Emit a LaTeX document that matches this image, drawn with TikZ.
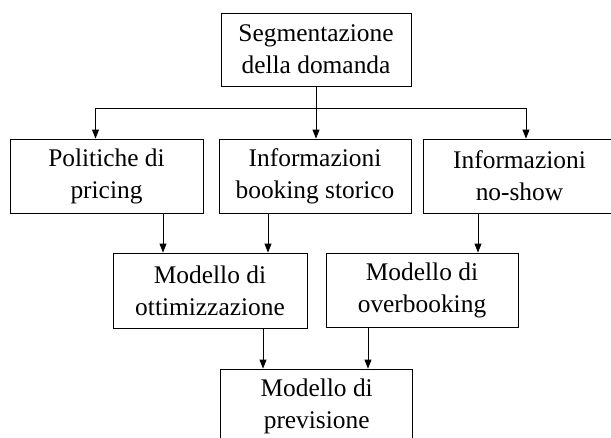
\documentclass[tikz,border=0pt]{standalone}
\usepackage{fontspec}
\setmainfont{Liberation Serif}
\usetikzlibrary{arrows.meta}
\begin{document}
\begin{tikzpicture}[
				x=1pt, y=-1pt,
				box/.style={draw=black, line width=0.9pt, minimum width=192pt, minimum height=74pt, inner sep=0pt, align=center, font=\fontsize{25.4pt}{32pt}\selectfont},
				arr/.style={line width=0.9pt, -{Triangle[length=9pt, width=7pt]}},
				link/.style={line width=0.9pt}
				]
			\useasboundingbox (0,0) rectangle (611,437);
			\node [box, minimum width=190pt, minimum height=73pt] (seg) at (316,49.5) {Segmentazione\\della domanda};
			\node [box, minimum width=193pt] (pol) at (106.5,176) {Politiche di\\pricing};
			\node [box] (book) at (315,176) {Informazioni\\booking storico};
			\node [box, minimum width=193pt] (noshow) at (519.5,176) {Informazioni\\no-show};
			\node [box, minimum width=194pt, minimum height=75pt] (ott) at (210,290.5) {Modello di\\ottimizzazione};
			\node [box] (over) at (422,290) {Modello di\\overbooking};
			\node [box] (prev) at (316.7,406) {Modello di\\previsione};
			\coordinate (split) at (seg.south |- 0,108);
			\coordinate (left) at (95.5,108);
			\coordinate (right) at (526,108);
			\draw [link] (seg.south) -- (split);
			\draw [link] (left) -- (right);
			\draw [arr] (left) -- (left |- pol.north);
			\draw [arr] (split) -- (split |- book.north);
			\draw [arr] (right) -- (right |- noshow.north);
			\draw [arr] ([xshift=56.5pt]pol.south) -- ([xshift=56.5pt]pol.south |- ott.north);
			\draw [arr] ([xshift=-47pt]book.south) -- ([xshift=-47pt]book.south |- ott.north);
			\draw [arr] ([xshift=-41.5pt]noshow.south) -- ([xshift=-41.5pt]noshow.south |- over.north);
			\draw [arr] ([xshift=53pt]ott.south) -- ([xshift=53pt]ott.south |- prev.north);
			\draw [arr] ([xshift=-54pt]over.south) -- ([xshift=-54pt]over.south |- prev.north);
			\end{tikzpicture}
\end{document}
